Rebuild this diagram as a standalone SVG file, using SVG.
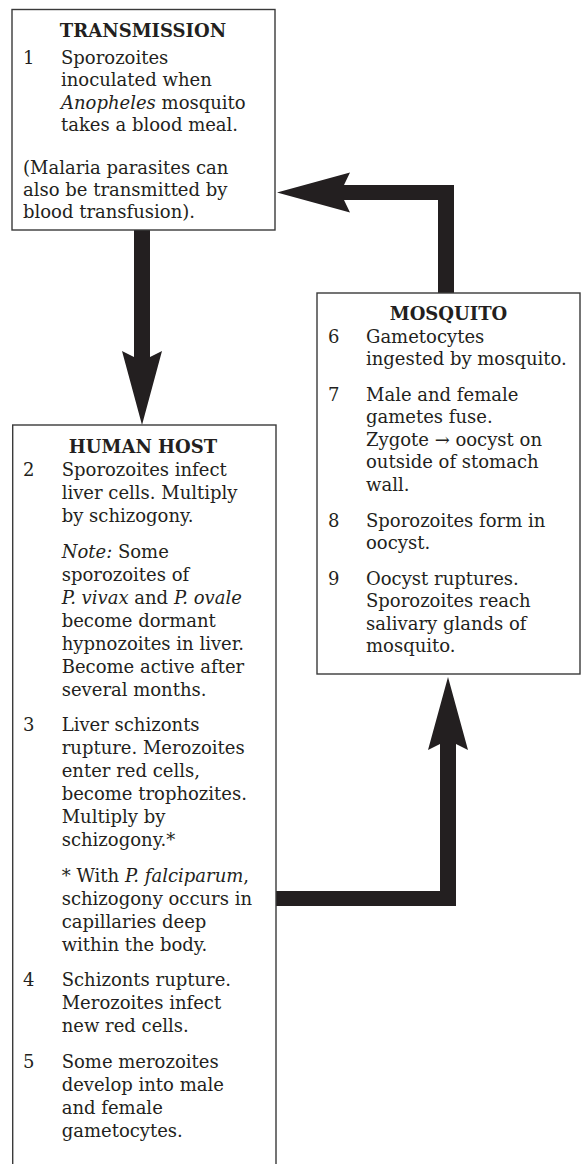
<svg xmlns="http://www.w3.org/2000/svg" width="582" height="1164" viewBox="0 0 582 1164">
<style>
.box{fill:#fff;stroke:#3a3a3a;stroke-width:1.4}
.t{font-family:"DejaVu Serif","Liberation Serif",serif;font-size:18px;fill:#231f20}
.h{font-family:"DejaVu Serif","Liberation Serif",serif;font-size:18px;font-weight:bold;fill:#231f20;text-anchor:middle}
.i{font-style:italic}
.arr{fill:#231f20;stroke:none}
</style>
<rect x="0" y="0" width="582" height="1164" fill="#fff"/>
<g id="connectors">
<polygon class="arr" points="134,230 150,230 150,357 162,351 142,425 122,351 134,357"/>
<polygon class="arr" points="438,293 438,200 344,200 350,212.5 277,192.5 350,172.5 344,185 454,185 454,293"/>
<polygon class="arr" points="276,891 440,891 440,744 428,750 448,677 468,750 456,744 456,906 276,906"/>
</g>
<g id="transmission">
<rect class="box" x="12" y="9.5" width="263" height="220.5"/>
<text class="h" x="143" y="36.5">TRANSMISSION</text>
<text class="t" x="23" y="64">1</text>
<text class="t" x="61" y="64">Sporozoites</text>
<text class="t" x="61" y="86.3">inoculated when</text>
<text class="t" x="61" y="108.5"><tspan class="i">Anopheles</tspan> mosquito</text>
<text class="t" x="61" y="130.7">takes a blood meal.</text>
<text class="t" x="23" y="174">(Malaria parasites can</text>
<text class="t" x="23" y="196.2">also be transmitted by</text>
<text class="t" x="23" y="218.4">blood transfusion).</text>
</g>
<g id="mosquito">
<rect class="box" x="317" y="293" width="263" height="381"/>
<text class="h" x="448.5" y="319.5">MOSQUITO</text>
<text class="t" x="328" y="342.7">6</text>
<text class="t" x="366" y="342.7">Gametocytes</text>
<text class="t" x="366" y="365.3">ingested by mosquito.</text>
<text class="t" x="328" y="400.5">7</text>
<text class="t" x="366" y="400.5">Male and female</text>
<text class="t" x="366" y="423.1">gametes fuse.</text>
<text class="t" x="366" y="445.7">Zygote → oocyst on</text>
<text class="t" x="366" y="468.3">outside of stomach</text>
<text class="t" x="366" y="490.9">wall.</text>
<text class="t" x="328" y="526.5">8</text>
<text class="t" x="366" y="526.5">Sporozoites form in</text>
<text class="t" x="366" y="549.1">oocyst.</text>
<text class="t" x="328" y="584.5">9</text>
<text class="t" x="366" y="584.5">Oocyst ruptures.</text>
<text class="t" x="366" y="607.1">Sporozoites reach</text>
<text class="t" x="366" y="629.7">salivary glands of</text>
<text class="t" x="366" y="652.3">mosquito.</text>
</g>
<g id="human-host">
<rect class="box" x="12.7" y="425" width="263.3" height="780"/>
<text class="h" x="143" y="453">HUMAN HOST</text>
<text class="t" x="23" y="476">2</text>
<text class="t" x="61.7" y="476">Sporozoites infect</text>
<text class="t" x="61.7" y="499">liver cells. Multiply</text>
<text class="t" x="61.7" y="522">by schizogony.</text>
<text class="t" x="61.7" y="557.5"><tspan class="i">Note:</tspan> Some</text>
<text class="t" x="61.7" y="580.5">sporozoites of</text>
<text class="t" x="61.7" y="603.5"><tspan class="i">P. vivax</tspan> and <tspan class="i">P. ovale</tspan></text>
<text class="t" x="61.7" y="626.5">become dormant</text>
<text class="t" x="61.7" y="649.5">hypnozoites in liver.</text>
<text class="t" x="61.7" y="672.5">Become active after</text>
<text class="t" x="61.7" y="695.5">several months.</text>
<text class="t" x="23" y="731">3</text>
<text class="t" x="61.7" y="731">Liver schizonts</text>
<text class="t" x="61.7" y="754">rupture. Merozoites</text>
<text class="t" x="61.7" y="777">enter red cells,</text>
<text class="t" x="61.7" y="800">become trophozites.</text>
<text class="t" x="61.7" y="823">Multiply by</text>
<text class="t" x="61.7" y="846">schizogony.*</text>
<text class="t" x="61.7" y="881.5">* With <tspan class="i">P. falciparum</tspan>,</text>
<text class="t" x="61.7" y="904.5">schizogony occurs in</text>
<text class="t" x="61.7" y="927.5">capillaries deep</text>
<text class="t" x="61.7" y="950.5">within the body.</text>
<text class="t" x="23" y="986">4</text>
<text class="t" x="61.7" y="986">Schizonts rupture.</text>
<text class="t" x="61.7" y="1009">Merozoites infect</text>
<text class="t" x="61.7" y="1032">new red cells.</text>
<text class="t" x="23" y="1067.5">5</text>
<text class="t" x="61.7" y="1067.5">Some merozoites</text>
<text class="t" x="61.7" y="1090.5">develop into male</text>
<text class="t" x="61.7" y="1113.5">and female</text>
<text class="t" x="61.7" y="1136.5">gametocytes.</text>
</g>
</svg>
